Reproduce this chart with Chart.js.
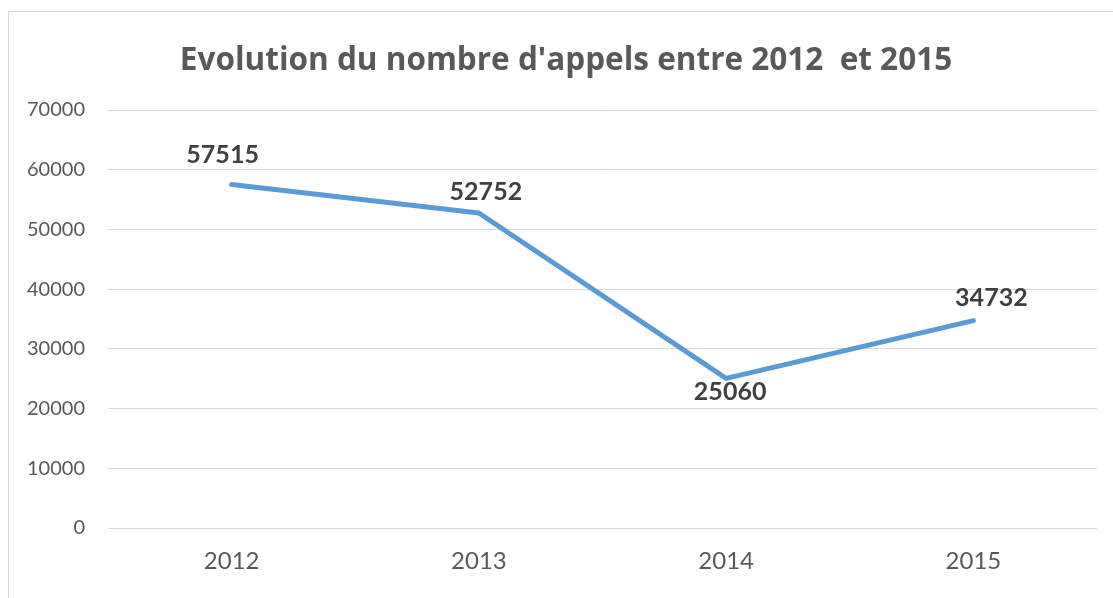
<!DOCTYPE html>
<html>
<head>
<meta charset="utf-8">
<script src="https://cdn.jsdelivr.net/npm/chart.js@4"></script>
<style>
  html, body { margin: 0; padding: 0; background: #fff; overflow: hidden; }
  #wrap { position: relative; width: 1113px; height: 598px; }
  #frame { position: absolute; left: 8px; top: 11px; width: 1200px; height: 700px; border: 1px solid #d9d9d9; box-sizing: border-box; pointer-events: none; }
  canvas { position: absolute; left: 0; top: 0; }
</style>
</head>
<body>
<div id="wrap">
  <canvas id="c" width="1113" height="598"></canvas>
  <div id="frame"></div>
</div>
<script>
const titleText = "Evolution du nombre d'appels entre 2012  et 2015";
const categories = ["2012", "2013", "2014", "2015"];
const appels = [57515, 52752, 25060, 34732];
const yTicks = [0, 10000, 20000, 30000, 40000, 50000, 60000, 70000];

// label placement offsets (style, in px)
const labelOffsets = [[-9, -30], [7, -21], [4, 14], [18, -23]];

const labelPlugin = {
  id: 'valueLabels',
  afterDatasetsDraw(chart) {
    const ctx = chart.ctx;
    const meta = chart.getDatasetMeta(0);
    ctx.save();
    ctx.font = 'bold 25px Lato';
    ctx.fillStyle = '#404040';
    ctx.textAlign = 'center';
    ctx.textBaseline = 'middle';
    meta.data.forEach((pt, i) => {
      const o = labelOffsets[i];
      ctx.fillText(String(appels[i]), pt.x + o[0], pt.y + o[1]);
    });
    ctx.restore();
  }
};

const titlePlugin = {
  id: 'customTitle',
  afterDraw(chart) {
    const ctx = chart.ctx;
    ctx.save();
    ctx.font = 'bold 31.5px "Open Sans"';
    ctx.fillStyle = '#595959';
    ctx.textAlign = 'center';
    ctx.textBaseline = 'alphabetic';
    ctx.fillText(titleText, 566, 70);
    ctx.restore();
  }
};

new Chart(document.getElementById('c'), {
  type: 'line',
  data: {
    labels: categories,
    datasets: [{
      data: appels,
      borderColor: '#5B9BD5',
      borderWidth: 5,
      borderCapStyle: 'round',
      borderJoinStyle: 'round',
      pointRadius: 0,
      tension: 0,
      fill: false
    }]
  },
  options: {
    responsive: false,
    animation: false,
    layout: { padding: { left: 0, right: 16, top: 110, bottom: 0 } },
    plugins: {
      legend: { display: false },
      tooltip: { enabled: false },
      title: { display: false }
    },
    scales: {
      x: {
        offset: true,
        grid: { display: false, drawTicks: false },
        border: { display: false },
        ticks: { color: '#595959', font: { family: 'Lato', size: 24 }, padding: 19 },
        afterFit(scale) { scale.height = 70; }
      },
      y: {
        min: 0,
        max: 70000,
        afterBuildTicks(scale) { scale.ticks = yTicks.map(v => ({ value: v })); },
        grid: { color: '#d9d9d9', lineWidth: 1, drawTicks: false },
        border: { display: false },
        ticks: {
          color: '#595959', font: { family: 'Lato', size: 20 }, padding: 23,
          callback: (v) => String(v)
        },
        afterFit(scale) { scale.width = 108; }
      }
    }
  },
  plugins: [labelPlugin, titlePlugin]
});
</script>
</body>
</html>
